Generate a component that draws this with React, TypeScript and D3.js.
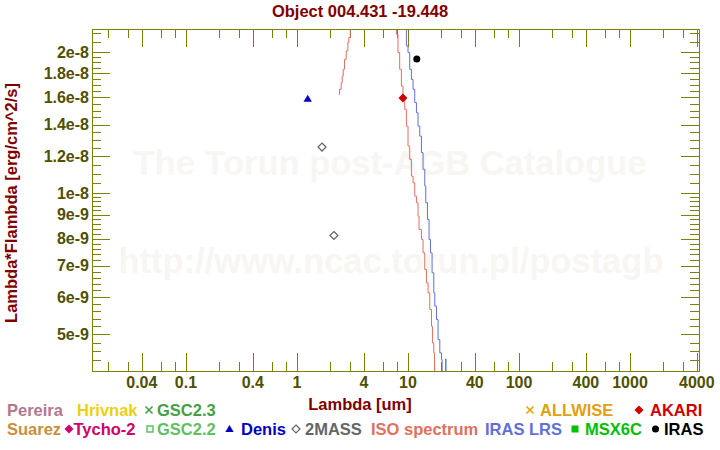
import React from 'react';
import * as d3 from 'd3';

const TITLE = 'Object 004.431 -19.448';
const X_LABEL = 'Lambda [um]';
const Y_LABEL = 'Lambda*Flambda [erg/cm^2/s]';
const WATERMARK_1 = 'The Torun post-AGB Catalogue';
const WATERMARK_2 = 'http://www.ncac.torun.pl/postagb';

const xDomain = [0.01423, 4183];
const yDomain = [4.174e-9, 2.239e-8];

const xMajorTicks = [0.04, 0.1, 0.4, 1, 4, 10, 40, 100, 400, 1000, 4000];
const xMajorLabels = ['0.04', '0.1', '0.4', '1', '4', '10', '40', '100', '400', '1000', '4000'];
const xMinorTicks = [0.02, 0.03, 0.06, 0.08, 0.2, 0.3, 0.6, 0.8, 2, 3, 6, 8, 20, 30, 60, 80, 200, 300, 600, 800, 2000, 3000];

const yMajorTicks = [5e-9, 6e-9, 7e-9, 8e-9, 9e-9, 1e-8, 1.2e-8, 1.4e-8, 1.6e-8, 1.8e-8, 2e-8];
const yMajorLabels = ['5e-9', '6e-9', '7e-9', '8e-9', '9e-9', '1e-8', '1.2e-8', '1.4e-8', '1.6e-8', '1.8e-8', '2e-8'];
const yMinorTicks = [
  4.4e-9, 4.6e-9, 4.8e-9, 5.2e-9, 5.4e-9, 5.6e-9, 5.8e-9, 6.2e-9, 6.4e-9, 6.6e-9, 6.8e-9,
  7.2e-9, 7.4e-9, 7.6e-9, 7.8e-9, 8.2e-9, 8.4e-9, 8.6e-9, 8.8e-9, 9.2e-9, 9.4e-9, 9.6e-9, 9.8e-9,
  1.05e-8, 1.1e-8, 1.15e-8, 1.25e-8, 1.3e-8, 1.35e-8, 1.45e-8, 1.5e-8, 1.55e-8,
  1.65e-8, 1.7e-8, 1.75e-8, 1.85e-8, 1.9e-8, 1.95e-8, 2.1e-8, 2.2e-8,
];

// ISO spectrum (two visible pieces; the middle runs above the frame)
const isoShort: [number, number][] = [
  [2.381, 1.624e-8], [2.415, 1.665e-8], [2.502, 1.721e-8], [2.555, 1.777e-8], [2.609, 1.837e-8],
  [2.681, 1.93e-8], [2.777, 2.01e-8], [2.871, 2.095e-8], [2.931, 2.147e-8], [3.018, 2.236e-8], [3.1, 2.349e-8],
];
const isoLong: [number, number][] = [
  [7.45, 2.35e-8], [7.857, 2.182e-8], [8.124, 1.994e-8], [8.414, 1.837e-8], [8.717, 1.692e-8],
  [9.012, 1.585e-8], [9.337, 1.509e-8], [9.672, 1.39e-8], [10.0, 1.26e-8], [10.36, 1.18e-8],
  [10.73, 1.087e-8], [11.1, 1.052e-8], [11.5, 9.854e-9], [11.91, 9.539e-9], [12.31, 8.932e-9],
  [12.57, 8.367e-9], [13.21, 7.964e-9], [13.66, 7.459e-9], [14.16, 6.873e-9], [14.66, 6.437e-9],
  [15.16, 6.129e-9], [15.7, 5.646e-9], [16.27, 5.2e-9], [16.61, 4.792e-9], [17.07, 4.563e-9],
  [17.32, 4.0e-9],
];
const irasLrs: [number, number][] = [
  [9.337, 2.35e-8], [9.672, 2.06e-8], [10.0, 1.994e-8], [10.36, 1.837e-8], [10.73, 1.748e-8],
  [11.1, 1.665e-8], [11.5, 1.56e-8], [11.91, 1.484e-8], [12.31, 1.39e-8], [12.76, 1.323e-8],
  [13.21, 1.22e-8], [13.66, 1.124e-8], [14.16, 1.035e-8], [14.45, 9.539e-9], [14.97, 8.788e-9],
  [15.48, 7.964e-9], [15.94, 7.459e-9], [16.48, 6.763e-9], [17.07, 6.129e-9], [17.43, 5.739e-9],
  [18.05, 5.375e-9], [18.66, 4.871e-9], [19.34, 4.563e-9], [20.03, 4.416e-9], [20.3, 4.0e-9],
  [21.7, 4.0e-9], [21.86, 4.43e-9], [21.95, 4.0e-9],
];

const denis: [number, number][] = [[1.249, 1.589e-8]];
const twoMass: [number, number][] = [[1.68, 1.254e-8], [2.15, 8.12e-9]];
const akari: [number, number][] = [[9.0, 1.595e-8]];
const iras: [number, number][] = [[12.0, 1.932e-8]];

const legendRow1 = ['Pereira', 'Hrivnak', 'GSC2.3', 'ALLWISE', 'AKARI'];
const legendRow2 = ['Suarez', 'Tycho-2', 'GSC2.2', 'Denis', '2MASS', 'ISO spectrum', 'IRAS LRS', 'MSX6C', 'IRAS'];

const COLORS: Record<string, string> = {
  Pereira: '#b3788c', Hrivnak: '#ecd010', 'GSC2.3': '#44a044', ALLWISE: '#e0a010', AKARI: '#d00000',
  Suarez: '#c89040', 'Tycho-2': '#d0006a', 'GSC2.2': '#60c060', Denis: '#0000c0', '2MASS': '#666666',
  'ISO spectrum': '#e07060', 'IRAS LRS': '#6070d8', MSX6C: '#00c000', IRAS: '#000000',
};

const FONT = '"Liberation Sans", Arial, Helvetica, sans-serif';
const OLIVE = '#808000';
const LABEL = '#505000';
const MAROON = '#800000';

function Marker({ kind, cx, cy, color }: { kind: string; cx: number; cy: number; color: string }) {
  switch (kind) {
    case 'x':
      return (
        <g stroke={color} strokeWidth={1.6}>
          <line x1={cx - 3.5} y1={cy - 3.5} x2={cx + 3.5} y2={cy + 3.5} />
          <line x1={cx - 3.5} y1={cy + 3.5} x2={cx + 3.5} y2={cy - 3.5} />
        </g>
      );
    case 'diamond':
      return <path d={`M${cx},${cy - 4.5}L${cx + 4.5},${cy}L${cx},${cy + 4.5}L${cx - 4.5},${cy}Z`} fill={color} />;
    case 'odiamond':
      return <path d={`M${cx},${cy - 4}L${cx + 4},${cy}L${cx},${cy + 4}L${cx - 4},${cy}Z`} fill="white" stroke={color} strokeWidth={1.2} />;
    case 'osquare':
      return <rect x={cx - 3} y={cy - 3} width={6} height={6} fill="white" stroke={color} strokeWidth={1.5} />;
    case 'square':
      return <rect x={cx - 3.5} y={cy - 3.5} width={7} height={7} fill={color} />;
    case 'triangle':
      return <path d={`M${cx},${cy - 4}L${cx + 4.2},${cy + 3}L${cx - 4.2},${cy + 3}Z`} fill={color} />;
    case 'circle':
      return <circle cx={cx} cy={cy} r={3.5} fill={color} />;
    default:
      return null;
  }
}

export default function App() {
  const L = 92, R = 699, T = 29, B = 371;
  const x = d3.scaleLog().domain(xDomain).range([L, R]);
  const y = d3.scaleLog().domain(yDomain).range([B, T]);
  const line = d3.line<[number, number]>().x(d => x(d[0])).y(d => y(d[1])).curve(d3.curveStepAfter);

  const MAJ = 18, MIN = 9;
  const px = (v: number) => Math.round(v) + 0.5;

  // legend layout (marker kind, marker x, text x)
  const row1Layout: [string, number, number][] = [
    ['', 0, 7], ['', 0, 77], ['x', 149, 157], ['x', 530, 540], ['diamond', 639, 650],
  ];
  const row2Layout: [string, number, number][] = [
    ['', 0, 7], ['diamond', 69, 73.5], ['osquare', 150, 157], ['triangle', 229.5, 241], ['odiamond', 296, 305],
    ['', 0, 371], ['', 0, 485], ['square', 575, 585], ['circle', 655.5, 664],
  ];

  return (
    <svg width={720} height={450} style={{ position: 'absolute', left: 0, top: 0, background: 'white' }} fontFamily={FONT}>
      <defs>
        <clipPath id="plotclip">
          <rect x={L} y={T} width={R - L} height={B - T} />
        </clipPath>
      </defs>
      <rect x={0} y={0} width={720} height={450} fill="white" />

      {/* watermark */}
      <g fill="#f8f6f2" fontWeight="bold" fontSize={34.5} textAnchor="middle">
        <text x={390} y={175}>{WATERMARK_1}</text>
        <text x={391} y={273}>{WATERMARK_2}</text>
      </g>

      {/* title */}
      <text x={360} y={17} textAnchor="middle" fill={MAROON} fontWeight="bold" fontSize={16.5}>{TITLE}</text>

      {/* ticks */}
      <g stroke={OLIVE} strokeWidth={1} shapeRendering="crispEdges">
        {xMajorTicks.map((t, i) => (
          <g key={'xM' + i}>
            <line x1={px(x(t))} x2={px(x(t))} y1={B} y2={B - MAJ} />
            <line x1={px(x(t))} x2={px(x(t))} y1={T} y2={T + MAJ} />
          </g>
        ))}
        {xMinorTicks.map((t, i) => (
          <g key={'xm' + i}>
            <line x1={px(x(t))} x2={px(x(t))} y1={B} y2={B - MIN} />
            <line x1={px(x(t))} x2={px(x(t))} y1={T} y2={T + MIN} />
          </g>
        ))}
        {yMajorTicks.map((t, i) => (
          <g key={'yM' + i}>
            <line x1={L} x2={L + MAJ} y1={px(y(t))} y2={px(y(t))} />
            <line x1={R} x2={R - MAJ} y1={px(y(t))} y2={px(y(t))} />
          </g>
        ))}
        {yMinorTicks.map((t, i) => (
          <g key={'ym' + i}>
            <line x1={L} x2={L + MIN} y1={px(y(t))} y2={px(y(t))} />
            <line x1={R} x2={R - MIN} y1={px(y(t))} y2={px(y(t))} />
          </g>
        ))}
      </g>

      {/* spectra and photometry */}
      <g clipPath="url(#plotclip)">
        <path d={line(isoShort) || ''} fill="none" stroke={COLORS['ISO spectrum']} strokeWidth={1} />
        <path d={line(isoLong) || ''} fill="none" stroke={COLORS['ISO spectrum']} strokeWidth={1} />
        <path d={line(irasLrs) || ''} fill="none" stroke={COLORS['IRAS LRS']} strokeWidth={1} />
        {denis.map((d, i) => <Marker key={'de' + i} kind="triangle" cx={x(d[0])} cy={y(d[1])} color={COLORS.Denis} />)}
        {twoMass.map((d, i) => <Marker key={'tm' + i} kind="odiamond" cx={x(d[0])} cy={y(d[1])} color={COLORS['2MASS']} />)}
        {akari.map((d, i) => <Marker key={'ak' + i} kind="diamond" cx={x(d[0])} cy={y(d[1])} color={COLORS.AKARI} />)}
        {iras.map((d, i) => <Marker key={'ir' + i} kind="circle" cx={x(d[0])} cy={y(d[1])} color={COLORS.IRAS} />)}
      </g>

      {/* frame */}
      <rect x={L + 0.5} y={T + 0.5} width={R - L} height={B - T} fill="none" stroke={OLIVE} strokeWidth={1} shapeRendering="crispEdges" />

      {/* tick labels */}
      <g fill={LABEL} fontWeight="bold" fontSize={16}>
        {xMajorTicks.map((t, i) => (
          <text key={'xl' + i} x={x(t)} y={388} textAnchor="middle">{xMajorLabels[i]}</text>
        ))}
        {yMajorTicks.map((t, i) => (
          <text key={'yl' + i} x={89} y={y(t)} dy="0.36em" textAnchor="end">{yMajorLabels[i]}</text>
        ))}
      </g>

      {/* axis titles */}
      <text x={360} y={410} textAnchor="middle" fill={MAROON} fontWeight="bold" fontSize={16.5}>{X_LABEL}</text>
      <text transform="translate(17,203) rotate(-90)" textAnchor="middle" fill={MAROON} fontWeight="bold" fontSize={16.5}>{Y_LABEL}</text>

      {/* legend */}
      <g fontWeight="bold" fontSize={16.5}>
        {legendRow1.map((name, i) => {
          const [kind, mx, tx] = row1Layout[i];
          return (
            <g key={'l1' + i}>
              {kind && <Marker kind={kind} cx={mx} cy={410} color={COLORS[name]} />}
              <text x={tx} y={416} fill={COLORS[name]}>{name}</text>
            </g>
          );
        })}
        {legendRow2.map((name, i) => {
          const [kind, mx, tx] = row2Layout[i];
          return (
            <g key={'l2' + i}>
              {kind && <Marker kind={kind} cx={mx} cy={429} color={COLORS[name]} />}
              <text x={tx} y={435} fill={COLORS[name]}>{name}</text>
            </g>
          );
        })}
      </g>
    </svg>
  );
}
